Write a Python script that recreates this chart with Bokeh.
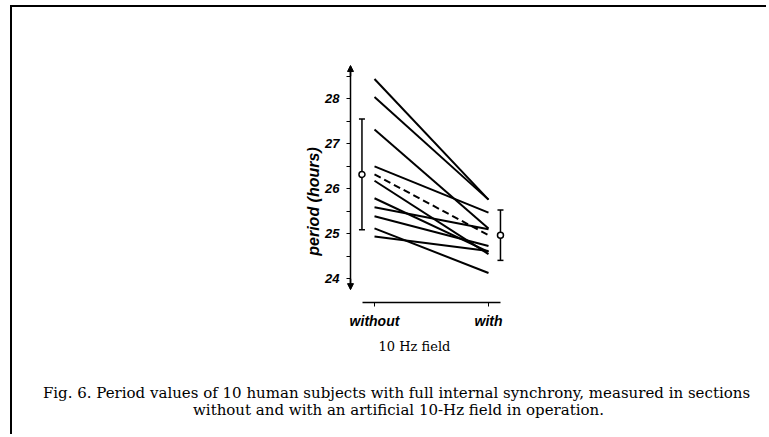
import math
from bokeh.plotting import figure
from bokeh.models import (ColumnDataSource, FixedTicker, Label, Arrow, NormalHead, Range1d)
from bokeh.embed import file_html
from bokeh.resources import INLINE

# ---- data (hours) ----
subjects = ["S1", "S2", "S3", "S4", "S5", "S6", "S7", "S8", "S9", "S10"]
period_without = [28.44, 28.04, 27.32, 26.50, 26.18, 25.79, 25.59, 25.39, 25.12, 24.94]
period_with = [25.76, 25.76, 25.12, 25.47, 24.55, 24.60, 25.10, 24.73, 24.13, 24.62]
mean_without, sd_without = 26.32, 1.23
mean_with, sd_with = 24.97, 0.56
conditions = ["without", "with"]
y_ticks = [24, 25, 26, 27, 28]
y_minor = [24.5, 25.5, 26.5, 27.5, 28.5]

# page geometry helpers (pixel -> data), canvas origin at page (12, 7)
PX_X0, PX_PER_X = 374.0, 114.0
PY_28, PX_PER_H = 98.33, 45.0
def dx(px):
    return (px - PX_X0) / PX_PER_X
def dy(py):
    return 28 - (py - PY_28) / PX_PER_H

W, H = 756, 429
p = figure(width=W, height=H, output_backend="svg", toolbar_location=None,
           x_range=Range1d(dx(12), dx(12 + W)), y_range=Range1d(dy(7 + H), dy(7)),
           min_border=0, min_border_left=0, min_border_right=0, min_border_top=0,
           min_border_bottom=0)
p.styles = {"margin-left": "10px", "margin-top": "5px",
            "border-left": "2px solid black", "border-top": "2px solid black"}
p.outline_line_color = None
p.grid.visible = False
p.background_fill_color = "white"
p.border_fill_color = "white"

AX_FONT = "Liberation Sans"
X_AXIS_AT = dx(350)
Y_AXIS_AT = dy(302)

# y axis
ya = p.yaxis[0]
ya.fixed_location = X_AXIS_AT
ya.bounds = (23.78, 28.72)
ya.ticker = FixedTicker(ticks=y_ticks, minor_ticks=y_minor)
ya.axis_line_width = 1.5
ya.major_tick_out = 4
ya.major_tick_in = 0
ya.minor_tick_out = 4
ya.minor_tick_in = 0
ya.major_label_standoff = 7
ya.major_label_text_font = AX_FONT
ya.major_label_text_font_style = "bold italic"
ya.major_label_text_font_size = "13px"
ya.major_label_text_color = "black"

# x axis
xa = p.xaxis[0]
xa.fixed_location = Y_AXIS_AT
xa.bounds = (-0.105, 1.105)
xa.ticker = FixedTicker(ticks=[0, 1], minor_ticks=[])
xa.major_label_overrides = {0: conditions[0], 1: conditions[1]}
xa.axis_line_width = 1.5
xa.major_tick_out = 4
xa.major_tick_in = 0
xa.major_label_standoff = 6
xa.major_label_text_font = AX_FONT
xa.major_label_text_font_style = "bold italic"
xa.major_label_text_font_size = "14px"
xa.major_label_text_color = "black"

# arrows at the ends of the y axis
p.add_layout(Arrow(x_start=X_AXIS_AT, y_start=28.5, x_end=X_AXIS_AT, y_end=28.74, line_width=1.5,
                   end=NormalHead(size=6, fill_color="black", line_color="black")))
p.add_layout(Arrow(x_start=X_AXIS_AT, y_start=24.0, x_end=X_AXIS_AT, y_end=23.76, line_width=1.5,
                   end=NormalHead(size=6, fill_color="black", line_color="black")))

# subject lines
src = ColumnDataSource(dict(x0=[0] * len(subjects), x1=[1] * len(subjects),
                            y0=period_without, y1=period_with))
p.segment(x0="x0", y0="y0", x1="x1", y1="y1", source=src, line_color="black", line_width=2)

# mean dashed line
p.line([0, 1], [mean_without, mean_with], line_color="black", line_width=2, line_dash="7 4")

# error bars (mean +- sd)
ex = [-0.11, 1.105]
means = [mean_without, mean_with]
sds = [sd_without, sd_with]
eb = ColumnDataSource(dict(x=ex, m=means, lo=[m - s for m, s in zip(means, sds)],
                           hi=[m + s for m, s in zip(means, sds)]))
p.segment(x0="x", y0="lo", x1="x", y1="hi", source=eb, line_color="black", line_width=1.5)
p.scatter(x="x", y="lo", source=eb, marker="dash", size=6, line_color="black", line_width=1.5)
p.scatter(x="x", y="hi", source=eb, marker="dash", size=6, line_color="black", line_width=1.5)
p.scatter(x="x", y="m", source=eb, marker="circle", size=6, fill_color="white",
          line_color="black", line_width=1.5)

# y-axis title
p.add_layout(Label(x=dx(312.5), y=dy(201), text="period (hours)", angle=math.pi / 2,
                   text_align="center", text_baseline="middle", text_font=AX_FONT,
                   text_font_style="bold italic", text_font_size="16px", text_color="black"))
# x-axis title
p.add_layout(Label(x=dx(414), y=dy(346), text="10 Hz field",
                   text_align="center", text_baseline="alphabetic", text_font="DejaVu Serif",
                   text_font_size="13px", text_color="black"))
# caption
cap1 = "Fig. 6. Period values of 10 human subjects with full internal synchrony, measured in sections"
cap2 = "without and with an artificial 10-Hz field in operation."
p.add_layout(Label(x=dx(396), y=dy(392), text=cap1,
                   text_align="center", text_baseline="alphabetic", text_font="DejaVu Serif",
                   text_font_size="15px", text_color="black"))
p.add_layout(Label(x=dx(398), y=dy(409), text=cap2,
                   text_align="center", text_baseline="alphabetic", text_font="DejaVu Serif",
                   text_font_size="15px", text_color="black"))

open("out.html", "w").write(file_html(p, INLINE))
